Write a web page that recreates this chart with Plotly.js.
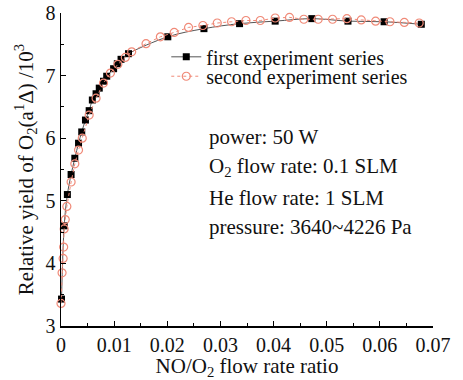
<!DOCTYPE html>
<html>
<head>
<meta charset="utf-8">
<script src="https://cdn.plot.ly/plotly-3.0.1.min.js"></script>
<style>html,body{margin:0;padding:0;background:#fff;}#chart{width:463px;height:380px;}</style>
</head>
<body>
<div id="chart"></div>
<script>
// Data
const firstX = [0.0001, 0.0006, 0.0012, 0.0019, 0.0026, 0.0033, 0.0039, 0.0046, 0.0053, 0.0059, 0.0066, 0.0072, 0.0080, 0.0086, 0.0099, 0.0106, 0.0113, 0.0127, 0.0201, 0.0269, 0.0336, 0.0403, 0.0472, 0.0540, 0.0608, 0.0678];
const firstY = [3.43, 4.60, 5.10, 5.42, 5.68, 5.92, 6.10, 6.29, 6.44, 6.61, 6.71, 6.80, 6.91, 6.99, 7.11, 7.19, 7.26, 7.35, 7.62, 7.75, 7.83, 7.87, 7.91, 7.87, 7.86, 7.82];
const secondX = [0.0000, 0.0002, 0.0004, 0.0005, 0.0006, 0.0008, 0.0011, 0.0019, 0.0026, 0.0033, 0.0040, 0.0053, 0.0066, 0.0080, 0.0093, 0.0107, 0.0121, 0.0133, 0.0160, 0.0187, 0.0213, 0.0240, 0.0267, 0.0294, 0.0321, 0.0348, 0.0375, 0.0403, 0.0430, 0.0457, 0.0484, 0.0511, 0.0538, 0.0565, 0.0592, 0.0619, 0.0646, 0.0674];
const secondY = [3.36, 3.85, 4.08, 4.26, 4.55, 4.70, 4.91, 5.30, 5.59, 5.81, 6.00, 6.37, 6.64, 6.88, 7.04, 7.18, 7.29, 7.38, 7.51, 7.62, 7.69, 7.77, 7.80, 7.84, 7.86, 7.88, 7.88, 7.92, 7.93, 7.90, 7.90, 7.90, 7.91, 7.89, 7.87, 7.86, 7.85, 7.84];
const seriesNames = ['first experiment series', 'second experiment series'];
const xTickVals = [0, 0.01, 0.02, 0.03, 0.04, 0.05, 0.06, 0.07];
const xTickText = ['0', '0.01', '0.02', '0.03', '0.04', '0.05', '0.06', '0.07'];
const notes = ['power: 50 W', 'O<sub>2</sub> flow rate: 0.1 SLM', 'He flow rate: 1 SLM', 'pressure: 3640~4226 Pa'];

const serif = 'Liberation Serif';

const traces = [
  {
    x: firstX, y: firstY, name: seriesNames[0], type: 'scatter', mode: 'lines+markers',
    line: {color: '#555555', width: 1, shape: 'spline'},
    marker: {symbol: 'square', size: 7, color: '#000000'},
    cliponaxis: false, legend: 'legend'
  },
  {
    x: secondX, y: secondY, name: seriesNames[1], type: 'scatter', mode: 'lines+markers',
    line: {color: '#f08a78', width: 1, dash: 'dot'},
    marker: {symbol: 'circle-open', size: 8, color: '#f08a78', line: {width: 1.2, color: '#f08a78'}},
    cliponaxis: false, legend: 'legend2'
  }
];

const noteY = [0.605, 0.507, 0.409, 0.315];
const annotations = notes.map((t, i) => ({
  text: t, xref: 'paper', yref: 'paper', x: 0.392, y: noteY[i],
  xanchor: 'left', yanchor: 'middle', showarrow: false,
  font: {family: serif, size: 21, color: '#111'}
}));

const legendBase = {
  xanchor: 'left', yanchor: 'middle',
  bgcolor: 'rgba(0,0,0,0)', font: {family: serif, size: 20, color: '#111'},
  itemwidth: 30
};

const layout = {
  width: 463, height: 380,
  margin: {l: 61, r: 30, t: 13, b: 54},
  paper_bgcolor: '#fff', plot_bgcolor: '#fff',
  font: {family: serif, color: '#111'},
  showlegend: true,
  legend: Object.assign({x: 0.283, y: 0.86}, legendBase),
  legend2: Object.assign({x: 0.283, y: 0.798}, legendBase),
  xaxis: {
    range: [0, 0.07], tickvals: xTickVals, ticktext: xTickText,
    showgrid: false, zeroline: false, showline: true, linecolor: '#000', linewidth: 1.5,
    ticks: 'inside', ticklen: 5, tickcolor: '#000', tickwidth: 1,
    minor: {dtick: 0.005, ticks: 'inside', ticklen: 3, tickcolor: '#000', showgrid: false},
    tickfont: {family: serif, size: 20, color: '#111'},
    title: {text: 'NO/O<sub>2</sub> flow rate ratio', font: {family: serif, size: 21, color: '#111'}, standoff: 0}
  },
  yaxis: {
    range: [3, 8], dtick: 1,
    showgrid: false, zeroline: false, showline: true, linecolor: '#000', linewidth: 1.5,
    ticks: 'inside', ticklen: 5, tickcolor: '#000', tickwidth: 1,
    minor: {dtick: 0.5, ticks: 'inside', ticklen: 3, tickcolor: '#000', showgrid: false},
    tickfont: {family: serif, size: 20, color: '#111'},
    title: {text: 'Relative yield of O<sub>2</sub>(a<sup>1</sup>Δ) /10<sup>3</sup>', font: {family: serif, size: 21, color: '#111'}, standoff: 6}
  },
  annotations: annotations
};

Plotly.newPlot('chart', traces, layout, {displayModeBar: false, staticPlot: true});
</script>
</body>
</html>
